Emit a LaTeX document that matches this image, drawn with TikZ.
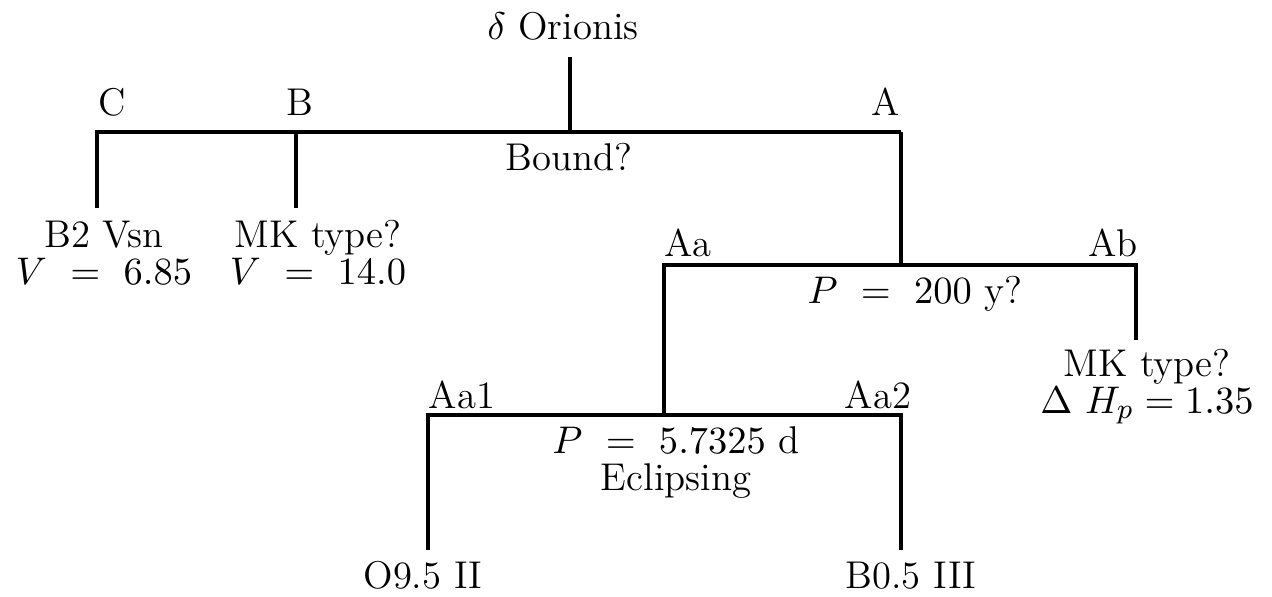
\documentclass[tikz,border=0pt]{standalone}
\usepackage{amsmath}
\usepackage{tikz}

\begin{document}
\begin{tikzpicture}[
  x=0.01cm, y=-0.01cm,
  lbl/.style={inner sep=0pt, anchor=base, align=center,
    font=\fontsize{11}{10.3}\selectfont},
  bar/.style={line width=1pt, line join=miter},
]
\useasboundingbox (0,0) rectangle (1272,597);

% ===== root and first level =====
\node[lbl] (orionis) at (563, 40) {$\delta$ Orionis};
\coordinate (rootTop) at (570, 57);
\coordinate (rootJ) at (570, 132);
\coordinate (cJ) at (97, 132);
\coordinate (bJ) at (296, 132);
\coordinate (aJ) at (901, 132);
\coordinate (cEnd) at (97, 208);
\coordinate (bEnd) at (296, 208);

\node[lbl] (labC) at (112, 115) {C};
\node[lbl] (labB) at (300, 115) {B};
\node[lbl] (labA) at (886, 115) {A};
\node[lbl] (bound) at (569, 170) {Bound?};

% two-line labels: base is the last line
\node[lbl] (starC) at (104, 284) {B2 Vsn\\$V\ =\ 6.85$};
\node[lbl] (starB) at (318, 284) {MK type?\\$V\ =\ 14.0$};

\draw[bar] (rootTop) -- (rootJ);
\draw[bar] (cEnd) -- (cJ) -- (aJ);
\draw[bar] (bJ) -- (bEnd);

% ===== A: Aa + Ab =====
\coordinate (aaJ) at (664, 265);
\coordinate (aBar) at (901, 265);
\coordinate (abJ) at (1136, 265);
\coordinate (abEnd) at (1136, 340);
\coordinate (aaEnd) at (664, 415);

\node[lbl] (labAa) at (688, 256) {Aa};
\node[lbl] (labAb) at (1113, 256) {Ab};
\node[lbl] (periodA) at (915, 303) {$P\ =\ 200$ y?};
\node[lbl] (starAb) at (1147, 413) {MK type?\\$\Delta\ H_p = 1.35$};

\draw[bar] (aJ) -- (aBar);
\draw[bar] (aaEnd) -- (aaJ) -- (abJ) -- (abEnd);

% ===== Aa: Aa1 + Aa2 =====
\coordinate (aa1J) at (428, 415);
\coordinate (aa2J) at (901, 415);
\coordinate (aa1End) at (428, 550);
\coordinate (aa2End) at (901, 550);

\node[lbl] (labAa1) at (462, 408) {Aa1};
\node[lbl] (labAa2) at (878, 408) {Aa2};
\node[lbl] (periodAa) at (676, 490) {$P\ =\ 5.7325$ d\\Eclipsing};
\node[lbl] (starAa1) at (423, 588) {O9.5 II};
\node[lbl] (starAa2) at (911, 588) {B0.5 III};

\draw[bar] (aa1End) -- (aa1J) -- (aa2J) -- (aa2End);

\end{tikzpicture}
\end{document}
